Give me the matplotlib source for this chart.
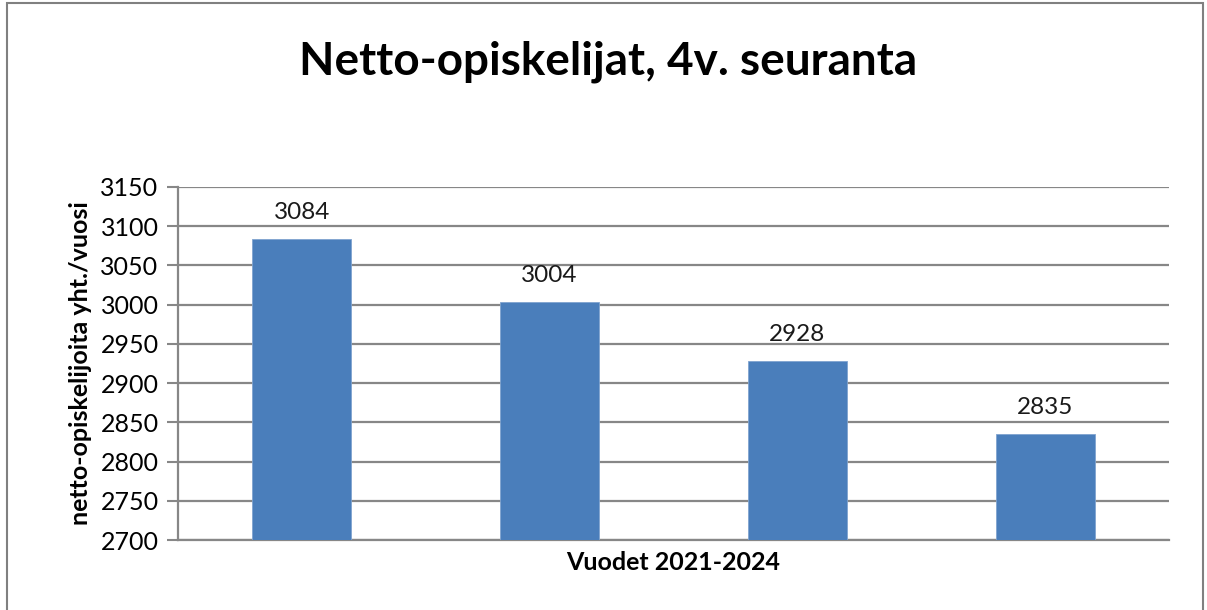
import matplotlib
matplotlib.use("Agg")
import matplotlib.pyplot as plt
from matplotlib.patches import Rectangle

# -----------------------------------------------------------------------------
# DATA
# -----------------------------------------------------------------------------
years = ["2021", "2022", "2023", "2024"]
students = [3084, 3004, 2928, 2835]
y_ticks = list(range(2700, 3151, 50))

title = "Netto-opiskelijat, 4v. seuranta"
x_label = "Vuodet 2021-2024"
y_label = "netto-opiskelijoita yht./vuosi"

plt.rcParams["font.family"] = ["Lato", "DejaVu Sans"]

W, H = 1207, 610
fig = plt.figure(figsize=(W / 100, H / 100), dpi=100)
ax = fig.add_axes([178 / W, (H - 540) / H, (1169 - 178) / W, (540 - 187) / H])

grid_col = "#878787"
bar_col = "#4A7EBB"

x = list(range(len(years)))
bars = ax.bar(x, students, width=0.4, color=bar_col, edgecolor="#7FA3CF",
              linewidth=0.6, zorder=3)
for xi, v in zip(x, students):
    ax.text(xi, v + 20, str(v), ha="center", va="bottom", fontsize=17.5, color="#1a1a1a")

ax.set_xlim(-0.5, len(years) - 0.5)
ax.set_ylim(2700, 3150)
ax.set_yticks(y_ticks)
ax.set_xticks([])
ax.tick_params(axis="y", labelsize=18, length=8, width=1.5, color=grid_col, pad=6)
ax.yaxis.grid(True, color=grid_col, linewidth=1.6, zorder=0)
ax.set_axisbelow(True)
for s in ["top", "right"]:
    ax.spines[s].set_visible(False)
for s in ["left", "bottom"]:
    ax.spines[s].set_color(grid_col)
    ax.spines[s].set_linewidth(1.6)

ax.set_xlabel(x_label, fontsize=18, fontweight="bold", labelpad=8)
ax.set_ylabel(y_label, fontsize=18, fontweight="bold", labelpad=6)

fig.text(608 / W, 1 - 62 / H, title, ha="center", va="center",
         fontsize=33, fontweight="bold")

# outer chart frame (bottom edge sits below the image)
fig.patches.append(Rectangle((7 / W, -0.05), (1203 - 7) / W, 1.05 - 3 / H,
                             transform=fig.transFigure, fill=False,
                             edgecolor="#808080", linewidth=1.5))

fig.savefig("out.png", dpi=100)
